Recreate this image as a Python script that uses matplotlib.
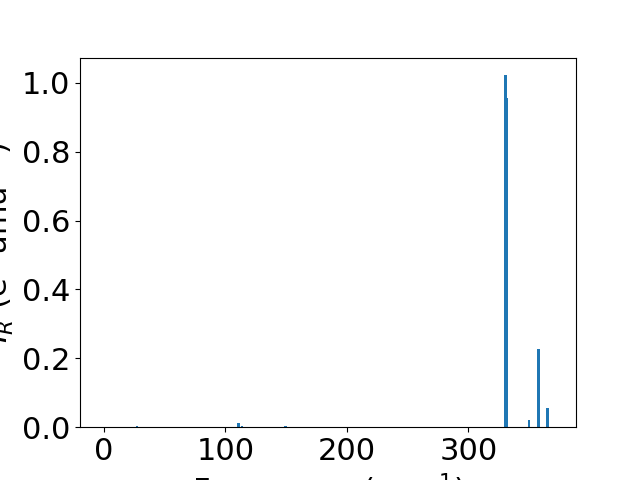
import numpy as np
import matplotlib
matplotlib.use("Agg")
import matplotlib.pyplot as plt

# IR spectrum stick/bar data
freq = [27.0, 110.8, 113.5, 149.5, 330.8, 332.0, 350.0, 357.7, 365.3]
intensity = [0.003, 0.012, 0.004, 0.003, 1.022, 0.957, 0.021, 0.227, 0.056]

plt.rcParams['font.size'] = 22

fig, ax = plt.subplots(figsize=(6.4, 4.8), dpi=100)
ax.bar(freq, intensity, width=2)
ax.set_xlim(-19.8, 388.7)
ax.set_xlabel('Frequency (cm$^{-1}$)')
ax.set_ylabel('$I_R$ (e$^2$ amu$^{-1}$)')

fig.savefig('out.png')
